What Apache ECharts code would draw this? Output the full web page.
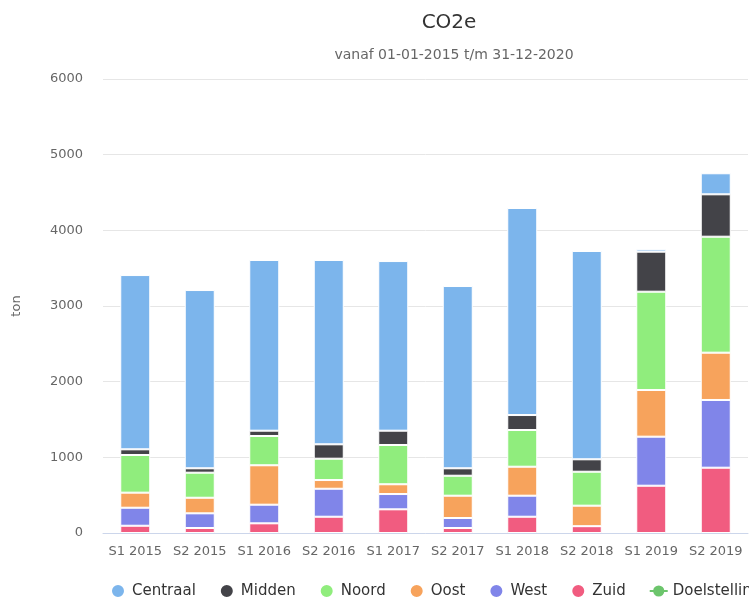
<!DOCTYPE html>
<html>
<head>
<meta charset="utf-8">
<script src="https://cdn.jsdelivr.net/npm/echarts@6/dist/echarts.min.js"></script>
<style>html,body{margin:0;padding:0;background:#fff}#c{width:749px;height:604px}</style>
</head>
<body>
<div id="c"></div>
<script>
const categories = ['S1 2015','S2 2015','S1 2016','S2 2016','S1 2017','S2 2017','S1 2018','S2 2018','S1 2019','S2 2019'];
const zuid     = [96, 66, 128, 215, 313, 66, 215, 90, 625, 863];
const west     = [238, 194, 246, 370, 202, 132, 278, 0, 648, 895];
const oost     = [199, 206, 521, 115, 129, 295, 383, 271, 617, 625];
const noord    = [498, 331, 387, 282, 519, 264, 485, 449, 1299, 1533];
const midden   = [75, 58, 70, 190, 189, 98, 198, 164, 529, 560];
const centraal = [2303, 2356, 2256, 2436, 2242, 2409, 2736, 2753, 31, 278];
const doelstelling = [];
const yTicks = [0, 1000, 2000, 3000, 4000, 5000, 6000];

const colors = {Centraal:'#7cb5ec', Midden:'#434348', Noord:'#90ed7d', Oost:'#f7a35c', West:'#8085e9', Zuid:'#f15c80', Doelstelling:'#6cc56c'};
const font = 'DejaVu Sans';
function bar(name, data){
  return {name, type:'bar', stack:'t', data, barWidth:30, color:colors[name],
    itemStyle:{color:colors[name], borderColor:'#fff', borderWidth:1}, emphasis:{disabled:true}};
}
const chart = echarts.init(document.getElementById('c'));
chart.setOption({
  animation:false,
  backgroundColor:'#fff',
  textStyle:{fontFamily:font},
  title:[
    {text:'CO2e', left:444, top:8, textAlign:'center', textStyle:{fontFamily:font, fontSize:20, fontWeight:'normal', color:'#333'}},
    {text:'vanaf 01-01-2015 t/m 31-12-2020', left:449, top:43, textAlign:'center', textStyle:{fontFamily:font, fontSize:14, fontWeight:'normal', color:'#666'}}
  ],
  legend:{
    left:105, bottom:0, width:1200, itemGap:23, itemWidth:18, itemHeight:14,
    textStyle:{fontFamily:font, fontSize:15, color:'#333'},
    data:[
      {name:'Centraal', icon:'circle'},{name:'Midden', icon:'circle'},{name:'Noord', icon:'circle'},
      {name:'Oost', icon:'circle'},{name:'West', icon:'circle'},{name:'Zuid', icon:'circle'},
      {name:'Doelstelling'}
    ]
  },
  grid:{left:103, right:1, top:79, bottom:71, containLabel:false},
  xAxis:{
    type:'category', data:categories,
    axisLine:{lineStyle:{color:'#ccd6eb'}},
    axisTick:{length:10, lineStyle:{color:'#ccd6eb'}},
    axisLabel:{fontFamily:font, fontSize:13, color:'#666', margin:12, interval:0}
  },
  yAxis:{
    type:'value', min:yTicks[0], max:yTicks[yTicks.length-1], interval:1000,
    name:'ton', nameLocation:'middle', nameGap:80,
    nameTextStyle:{fontFamily:font, fontSize:13, color:'#666'},
    axisLine:{show:false}, axisTick:{show:false},
    axisLabel:{fontFamily:font, fontSize:13, color:'#666', margin:20, formatter:v => String(v)},
    splitLine:{lineStyle:{color:'#e6e6e6'}}
  },
  series:[
    bar('Zuid', zuid), bar('West', west), bar('Oost', oost), bar('Noord', noord), bar('Midden', midden), bar('Centraal', centraal),
    {name:'Doelstelling', type:'line', data:doelstelling, color:colors.Doelstelling, symbol:'circle', symbolSize:6,
     lineStyle:{color:colors.Doelstelling, width:2}, itemStyle:{color:colors.Doelstelling}}
  ]
});
</script>
</body>
</html>
